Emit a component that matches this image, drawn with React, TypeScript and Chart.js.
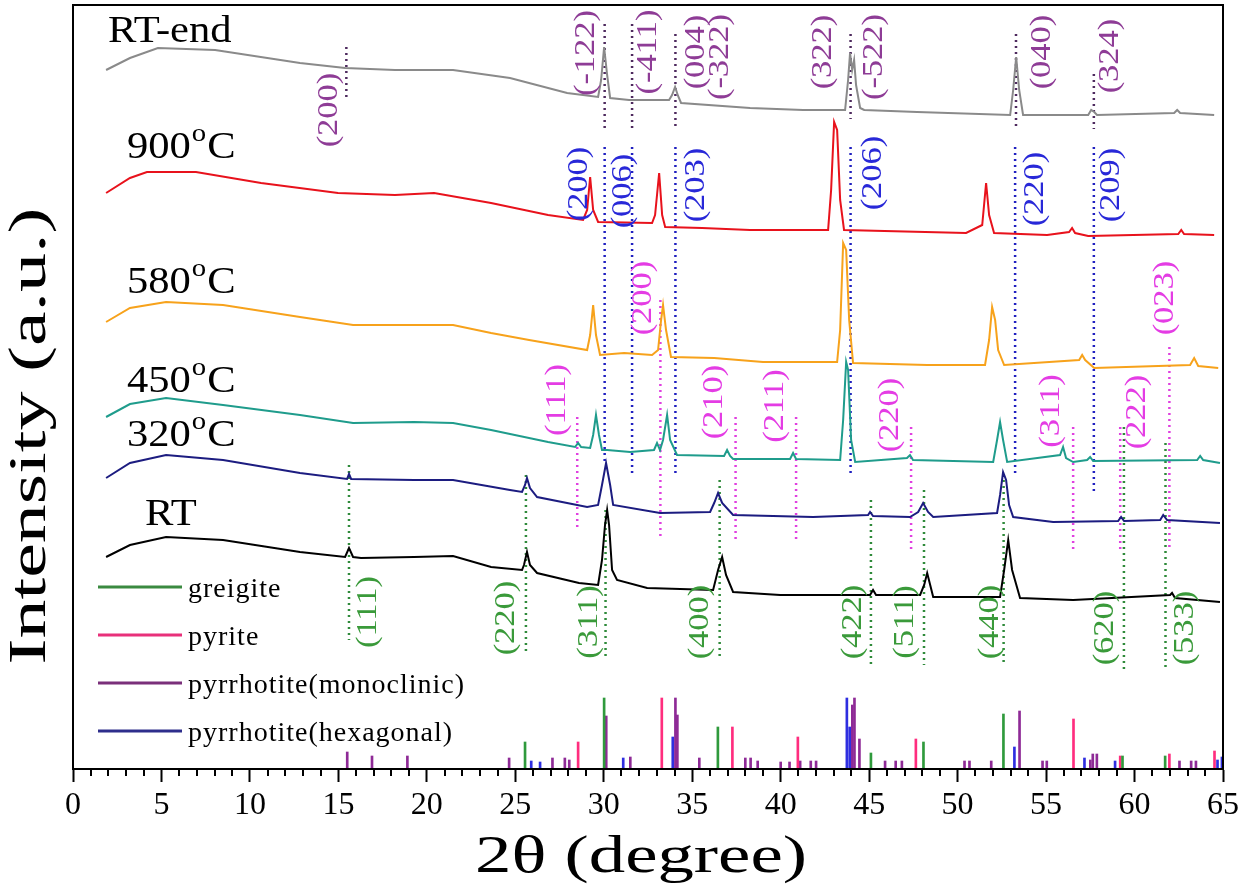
import React, { useEffect, useRef } from 'react';
import { Chart, registerables } from 'chart.js';

Chart.register(...registerables);

const SERIF = '"Liberation Serif", "Times New Roman", Times, serif';

// ---------------- axes ----------------
const X_MIN = 0;
const X_MAX = 65;
const Y_MIN = 0;
const Y_MAX = 764;
const X_MAJOR_TICKS = [0, 5, 10, 15, 20, 25, 30, 35, 40, 45, 50, 55, 60, 65];
const X_MINOR_TICKS = [1, 2, 3, 4, 6, 7, 8, 9, 11, 12, 13, 14, 16, 17, 18, 19, 21, 22, 23, 24, 26, 27, 28, 29, 31, 32, 33, 34, 36, 37, 38, 39, 41, 42, 43, 44, 46, 47, 48, 49, 51, 52, 53, 54, 56, 57, 58, 59, 61, 62, 63, 64];
const X_TITLE = '2θ (degree)';
const Y_TITLE = 'Intensity (a.u.)';

// ---------------- XRD patterns (2θ, offset intensity) ----------------
const rtX = [1.87, 3.22, 5.26, 8.48, 12.83, 15.38, 15.6, 15.83, 16.28, 19.28, 21.48, 23.63, 25.38, 25.49, 25.66, 25.83, 26.23, 28.6, 29.68, 29.9, 30.07, 30.19, 30.3, 30.47, 30.75, 32.45, 36.18, 36.46, 36.69, 36.91, 37.31, 39.97, 45.05, 45.22, 45.39, 47.88, 48.11, 48.28, 48.45, 48.62, 52.4, 52.63, 52.86, 53.08, 53.53, 56.53, 62.01, 62.12, 62.29, 64.83];
const rtY = [212, 224, 232, 229, 217, 212, 221, 212, 211, 212, 213, 202, 199, 204, 217, 204, 196, 186, 184, 209, 244, 259, 244, 199, 189, 181, 179, 199, 212, 194, 177, 174, 174, 179, 174, 174, 184, 196, 184, 172, 172, 199, 229, 199, 171, 169, 174, 176, 171, 167];

const c320X = [1.87, 3.22, 5.26, 8.48, 12.83, 15.49, 15.6, 15.72, 19.28, 21.48, 24.7, 25.38, 25.55, 25.66, 25.83, 26.23, 29.06, 29.68, 29.9, 30.13, 30.36, 30.53, 33.18, 36.01, 36.24, 36.46, 36.69, 37.31, 41.83, 44.94, 45.05, 45.22, 47.31, 47.77, 48.05, 48.33, 48.62, 52.23, 52.4, 52.57, 52.74, 52.91, 53.14, 55.4, 59.07, 59.24, 59.41, 61.45, 61.62, 61.84, 64.83];
const c320Y = [291, 306, 314, 309, 296, 290, 295, 290, 289, 289, 279, 277, 284, 291, 281, 272, 262, 264, 284, 306, 284, 264, 256, 257, 266, 276, 266, 254, 252, 254, 257, 253, 252, 257, 266, 257, 252, 256, 274, 297, 289, 264, 252, 247, 248, 252, 248, 249, 254, 249, 246];

const c450X = [1.87, 3.22, 5.26, 8.48, 12.83, 15.83, 19.28, 21.48, 23.63, 26.85, 28.38, 28.55, 28.72, 29.23, 29.4, 29.56, 29.73, 29.9, 30.19, 31.49, 32.84, 33.01, 33.18, 33.35, 33.58, 33.75, 34.14, 36.8, 36.97, 37.14, 37.31, 40.53, 40.7, 40.87, 43.36, 43.53, 43.7, 43.81, 43.98, 44.21, 47.14, 47.31, 47.48, 52.01, 52.23, 52.4, 52.57, 52.8, 55.79, 55.96, 56.13, 56.53, 57.32, 57.49, 57.66, 63.54, 63.71, 63.88, 64.83];
const c450Y = [352, 365, 371, 364, 354, 346, 347, 346, 339, 327, 322, 326, 322, 321, 334, 354, 334, 319, 319, 317, 319, 326, 319, 329, 354, 329, 314, 313, 319, 313, 310, 310, 316, 310, 309, 349, 407, 399, 329, 307, 311, 314, 309, 307, 329, 347, 329, 307, 314, 322, 311, 307, 309, 312, 308, 309, 313, 309, 306];

const c580X = [1.87, 3.22, 5.26, 8.48, 12.83, 15.83, 21.48, 23.63, 25.78, 29.06, 29.23, 29.4, 29.56, 29.79, 31.15, 32.73, 33.07, 33.24, 33.35, 33.52, 33.8, 36.24, 39.0, 43.19, 43.36, 43.53, 43.7, 43.87, 44.09, 48.28, 51.55, 51.78, 51.95, 52.12, 52.29, 52.63, 56.87, 57.04, 57.21, 57.72, 63.14, 63.37, 63.6, 64.73];
const c580Y = [447, 461, 467, 464, 452, 444, 444, 436, 429, 419, 434, 464, 434, 414, 416, 414, 419, 449, 464, 439, 412, 411, 407, 407, 439, 526, 519, 449, 406, 404, 404, 429, 462, 449, 419, 404, 409, 414, 409, 401, 404, 411, 403, 401];

const c900X = [1.87, 3.22, 4.18, 6.95, 10.63, 14.98, 18.2, 20.41, 23.63, 26.85, 28.83, 29.06, 29.23, 29.4, 29.68, 32.73, 32.9, 33.13, 33.3, 33.47, 35.56, 38.27, 42.68, 42.85, 43.02, 43.19, 43.36, 43.58, 50.48, 51.39, 51.61, 51.78, 52.06, 55.06, 56.3, 56.47, 56.64, 57.38, 62.47, 62.64, 62.8, 64.5];
const c900Y = [576, 591, 597, 597, 586, 576, 574, 576, 566, 554, 549, 559, 592, 559, 547, 546, 554, 596, 554, 542, 541, 539, 539, 579, 647, 639, 569, 539, 536, 544, 586, 554, 536, 534, 537, 541, 536, 533, 535, 539, 535, 534];

const rtEndX = [1.87, 3.22, 4.8, 8.03, 12.83, 15.38, 18.2, 21.48, 24.7, 27.93, 29.68, 29.85, 30.02, 30.19, 30.36, 31.43, 33.69, 33.86, 34.03, 34.2, 34.37, 38.27, 41.27, 43.64, 43.81, 43.92, 44.04, 44.15, 44.26, 44.49, 44.72, 47.71, 52.97, 53.14, 53.31, 53.48, 53.7, 57.38, 57.55, 57.72, 57.88, 62.24, 62.41, 62.58, 64.5];
const rtEndY = [699, 711, 721, 719, 706, 701, 699, 699, 691, 676, 672, 689, 722, 694, 671, 669, 669, 674, 682, 673, 666, 661, 659, 659, 689, 716, 699, 709, 684, 661, 659, 657, 654, 679, 712, 679, 654, 654, 659, 657, 654, 656, 659, 656, 654];

const SAMPLE_COLORS = ['#000000', '#1c1c80', '#1f9c8c', '#f7a21b', '#e8121c', '#8a8a8a'];

// ---------------- reference stick patterns ----------------
const PHASE_NAMES = ['greigite', 'pyrite', 'pyrrhotite(monoclinic)', 'pyrrhotite(hexagonal)'];
const PHASE_STICK_COLORS = ['#2f9a3c', '#ff2d7e', '#8e2a96', '#2e2ee0'];
const PHASE_LEGEND_COLORS = ['#3a8a40', '#e8307a', '#7a2f7a', '#2e2e8c'];

const greigiteX = [25.55, 30.02, 36.45, 45.1, 48.07, 52.59, 59.32, 61.73];
const greigiteH = [27, 71, 42, 16, 27, 55, 13, 13];
const pyriteX = [28.55, 33.28, 37.27, 40.97, 47.64, 56.55, 59.19, 61.97, 64.52];
const pyriteH = [27, 71, 42, 32, 30, 50, 13, 15, 18];
const monoX = [15.5, 16.9, 18.9, 24.65, 27.1, 27.8, 28.05, 30.14, 31.5, 34.05, 34.16, 35.4, 38.0, 38.3, 38.7, 40.0, 40.5, 41.1, 41.7, 42.0, 44.05, 44.17, 44.45, 45.9, 46.5, 46.85, 50.39, 50.67, 51.9, 53.5, 54.8, 55.04, 57.5, 57.64, 57.87, 62.54, 63.2, 63.47];
const monoH = [17, 13, 13, 11, 11, 11, 9, 53, 12, 71, 54, 11, 11, 11, 8, 7, 7, 8, 8, 8, 64, 71, 30, 8, 8, 8, 8, 8, 8, 58, 8, 8, 9, 15, 15, 8, 8, 8];
const hexX = [25.9, 26.4, 30.08, 31.1, 33.9, 43.74, 43.9, 53.21, 57.17, 58.9, 64.69, 64.94];
const hexH = [8, 7, 24, 11, 32, 71, 42, 22, 11, 8, 9, 12];

// ---------------- indexed reflections (dotted markers + hkl labels) ----------------
// monoclinic pyrrhotite (RT-end)
const monoLineX = [15.45, 30.05, 31.6, 34.05, 43.95, 53.3, 57.7];
const monoLineTop = [722, 745, 745, 735, 735, 735, 695];
const monoLineBottom = [669, 640, 640, 640, 650, 640, 640];
const monoLabels = ['(200)', '(-122)', '(-411)', '(004)', '(-322)', '(322)', '(-522)', '(040)', '(324)'];
const monoLabelX = [14.5, 29.0, 32.5, 35.2, 36.6, 42.4, 45.3, 54.8, 58.6];
const monoLabelY = [659, 716, 717, 717, 712, 717, 712, 717, 713];

// hexagonal pyrrhotite (900 °C)
const hexLineX = [30.05, 31.6, 34.05, 43.95, 53.25, 57.7];
const hexLineTop = [622, 622, 622, 622, 622, 622];
const hexLineBottom = [305, 296, 296, 296, 296, 276];
const hexLabels = ['(200)', '(006)', '(203)', '(206)', '(220)', '(209)'];
const hexLabelX = [28.6, 31.1, 35.2, 45.2, 54.4, 58.7];
const hexLabelY = [585, 578, 584, 596, 580, 584];

// pyrite (450 °C)
const pyLineX = [28.5, 33.2, 37.45, 40.87, 47.37, 56.53, 59.19, 61.97];
const pyLineTop = [352, 469, 352, 352, 342, 342, 342, 422];
const pyLineBottom = [239, 229, 229, 229, 219, 219, 219, 219];
const pyLabels = ['(111)', '(200)', '(210)', '(211)', '(220)', '(311)', '(222)', '(023)'];
const pyLabelX = [27.36, 32.2, 36.24, 39.68, 46.18, 55.29, 60.15, 61.73];
const pyLabelY = [369, 471, 367, 363, 354, 358, 357, 471];

// greigite (RT)
const grLineX = [15.6, 25.6, 30.1, 36.55, 45.1, 48.1, 52.6, 59.4, 61.75];
const grLineTop = [304, 294, 259, 289, 269, 279, 289, 342, 326];
const grLineBottom = [129, 114, 109, 109, 104, 104, 104, 99, 99];
const grLabels = ['(111)', '(220)', '(311)', '(400)', '(422)', '(511)', '(440)', '(620)', '(533)'];
const grLabelX = [16.68, 24.48, 29.17, 35.44, 44.09, 47.03, 51.84, 58.34, 62.86];
const grLabelY = [157, 151, 147, 147, 147, 147, 147, 141, 141];

// ---------------- sample names ----------------
const SAMPLE_LABEL_MAIN = ['RT-end', '900', '580', '450', '320', 'RT'];
const SAMPLE_LABEL_DEGREE = [false, true, true, true, true, false];
const SAMPLE_LABEL_X = [1.98, 3.05, 3.05, 3.05, 3.05, 4.07];
const SAMPLE_LABEL_Y = [727, 611, 476, 377, 323, 244];

// ---------------- styles ----------------
const HKL_STYLE = [
  { text: '#8e3c96', line: '#4e2a5e' },
  { text: '#2828d8', line: '#2020c0' },
  { text: '#e43ce4', line: '#e040e0' },
  { text: '#3a9a3a', line: '#2f8a3a' },
];
const TEXT_STRETCH = 1.15;

function pairs(xs: number[], ys: number[]) {
  return xs.map((x, i) => ({ x, y: ys[i] }));
}
function segments(xs: number[], tops: number[], bottoms: number[]) {
  const out: { x: number; y: number | null }[] = [];
  xs.forEach((x, i) => {
    out.push({ x, y: tops[i] }, { x, y: bottoms[i] }, { x, y: null });
  });
  return out;
}

function drawText(
  ctx: CanvasRenderingContext2D,
  text: string,
  x: number,
  y: number,
  opts: { angle?: number; sx?: number; size: number; color: string; align?: CanvasTextAlign; baseline?: CanvasTextBaseline },
) {
  ctx.save();
  ctx.translate(x, y);
  if (opts.angle) ctx.rotate(opts.angle);
  ctx.scale(opts.sx ?? 1, 1);
  ctx.font = `${opts.size}px ${SERIF}`;
  ctx.fillStyle = opts.color;
  ctx.textAlign = opts.align ?? 'center';
  ctx.textBaseline = opts.baseline ?? 'middle';
  ctx.fillText(text, 0, 0);
  ctx.restore();
}

const framePlugin = {
  id: 'frameAndTicks',
  afterDraw(chart: any) {
    const { ctx, chartArea, scales } = chart;
    const xs = scales.x;
    ctx.save();
    ctx.strokeStyle = '#000';
    ctx.lineWidth = 2;
    ctx.strokeRect(chartArea.left, chartArea.top, chartArea.right - chartArea.left, chartArea.bottom - chartArea.top);
    ctx.beginPath();
    X_MINOR_TICKS.forEach((v) => {
      const px = Math.round(xs.getPixelForValue(v));
      ctx.moveTo(px, chartArea.bottom);
      ctx.lineTo(px, chartArea.bottom + 7);
    });
    ctx.stroke();
    ctx.restore();

    // axis titles
    drawText(ctx, X_TITLE, (chartArea.left + chartArea.right) / 2 - 7, 872, {
      size: 52,
      sx: 1.4,
      color: '#000',
      baseline: 'alphabetic',
    });
    drawText(ctx, Y_TITLE, 31, 436, {
      size: 52,
      sx: 1.5,
      angle: -Math.PI / 2,
      color: '#000',
      baseline: 'middle',
    });
  },
};

const labelPlugin = {
  id: 'xrdLabels',
  afterDatasetsDraw(chart: any) {
    const { ctx, chartArea, scales } = chart;
    const xs = scales.x;
    const ys = scales.y;
    const groups = [
      [monoLabels, monoLabelX, monoLabelY],
      [hexLabels, hexLabelX, hexLabelY],
      [pyLabels, pyLabelX, pyLabelY],
      [grLabels, grLabelX, grLabelY],
    ] as [string[], number[], number[]][];
    groups.forEach(([labels, lx, ly], gi) => {
      labels.forEach((t, i) => {
        drawText(ctx, t, xs.getPixelForValue(lx[i]), ys.getPixelForValue(ly[i]), {
          angle: -Math.PI / 2,
          sx: TEXT_STRETCH,
          size: 30,
          color: HKL_STYLE[gi].text,
        });
      });
    });

    // sample names
    SAMPLE_LABEL_MAIN.forEach((t, i) => {
      let px = xs.getPixelForValue(SAMPLE_LABEL_X[i]);
      const py = ys.getPixelForValue(SAMPLE_LABEL_Y[i]);
      const base = { sx: TEXT_STRETCH, color: '#000', align: 'left' as CanvasTextAlign, baseline: 'alphabetic' as CanvasTextBaseline };
      drawText(ctx, t, px, py, { ...base, size: 37 });
      if (SAMPLE_LABEL_DEGREE[i]) {
        ctx.save();
        ctx.font = `37px ${SERIF}`;
        px += ctx.measureText(t).width * TEXT_STRETCH + 1;
        ctx.font = `25px ${SERIF}`;
        const ow = ctx.measureText('o').width * TEXT_STRETCH;
        ctx.restore();
        drawText(ctx, 'o', px, py - 17, { ...base, size: 25 });
        drawText(ctx, 'C', px + ow + 1, py, { ...base, size: 37 });
      }
    });

    // legend
    ctx.save();
    const lx0 = chartArea.left + 25;
    const lx1 = chartArea.left + 109;
    const rows = [182, 134, 86, 38];
    PHASE_NAMES.forEach((name, i) => {
      const py = chartArea.bottom - rows[i];
      ctx.strokeStyle = PHASE_LEGEND_COLORS[i];
      ctx.lineWidth = 3;
      ctx.beginPath();
      ctx.moveTo(lx0, py);
      ctx.lineTo(lx1, py);
      ctx.stroke();
      ctx.fillStyle = '#000';
      ctx.font = `28px ${SERIF}`;
      (ctx as any).letterSpacing = '1px';
      ctx.textAlign = 'left';
      ctx.textBaseline = 'middle';
      ctx.fillText(name, chartArea.left + 115, py + 3);
    });
    ctx.restore();
  },
};

export default function App() {
  const canvasRef = useRef<HTMLCanvasElement | null>(null);

  useEffect(() => {
    const canvas = canvasRef.current;
    if (!canvas) return;

    const patterns = [
      [rtX, rtY],
      [c320X, c320Y],
      [c450X, c450Y],
      [c580X, c580Y],
      [c900X, c900Y],
      [rtEndX, rtEndY],
    ] as [number[], number[]][];

    const curveSets = patterns.map(([xs, ys], i) => ({
      type: 'line' as const,
      data: pairs(xs, ys),
      borderColor: SAMPLE_COLORS[i],
      borderWidth: 2,
      pointRadius: 0,
      tension: 0,
      fill: false,
    }));

    const dotted = [
      segments(monoLineX, monoLineTop, monoLineBottom),
      segments(hexLineX, hexLineTop, hexLineBottom),
      segments(pyLineX, pyLineTop, pyLineBottom),
      segments(grLineX, grLineTop, grLineBottom),
    ].map((d, i) => ({
      type: 'line' as const,
      data: d,
      borderColor: HKL_STYLE[i].line,
      borderWidth: 2.5,
      borderDash: [2, 4],
      pointRadius: 0,
      spanGaps: false,
      fill: false,
    }));

    const sticks = [
      [greigiteX, greigiteH],
      [pyriteX, pyriteH],
      [monoX, monoH],
      [hexX, hexH],
    ].map(([xs, hs], i) => ({
      type: 'bar' as const,
      data: pairs(xs as number[], hs as number[]),
      backgroundColor: PHASE_STICK_COLORS[i],
      borderWidth: 0,
      barThickness: 2,
      grouped: false,
    }));

    const chart = new Chart(canvas, {
      type: 'line',
      data: { datasets: [...curveSets, ...dotted, ...sticks] as any },
      options: {
        responsive: true,
        maintainAspectRatio: false,
        animation: false,
        parsing: true,
        layout: { padding: { top: 5, right: 24, left: 0, bottom: 0 } },
        plugins: {
          legend: { display: false },
          tooltip: { enabled: false },
          title: { display: false },
        },
        scales: {
          x: {
            type: 'linear',
            min: X_MIN,
            max: X_MAX,
            offset: false,
            afterBuildTicks: (s: any) => {
              s.ticks = X_MAJOR_TICKS.map((v) => ({ value: v }));
            },
            ticks: {
              color: '#000',
              font: { family: SERIF, size: 32 },
              padding: 4,
              maxRotation: 0,
              autoSkip: false,
            },
            grid: {
              offset: false,
              drawOnChartArea: false,
              drawTicks: true,
              tickLength: 13,
              tickWidth: 2,
              tickColor: '#000',
              color: '#000',
            },
            border: { display: true, color: '#000', width: 2 },
            title: { display: false, text: X_TITLE },
            afterFit: (s: any) => {
              s.height = 127;
            },
          },
          y: {
            type: 'linear',
            min: Y_MIN,
            max: Y_MAX,
            offset: false,
            ticks: { display: false },
            grid: { display: false, drawTicks: false },
            border: { display: true, color: '#000', width: 2 },
            title: { display: false, text: Y_TITLE },
            afterFit: (s: any) => {
              s.width = 73;
            },
          },
        },
      } as any,
      plugins: [framePlugin, labelPlugin],
    });

    return () => chart.destroy();
  }, []);

  return (
    <div style={{ position: 'fixed', left: 0, top: 0, width: 1247, height: 896, background: '#fff' }}>
      <canvas ref={canvasRef} />
    </div>
  );
}
